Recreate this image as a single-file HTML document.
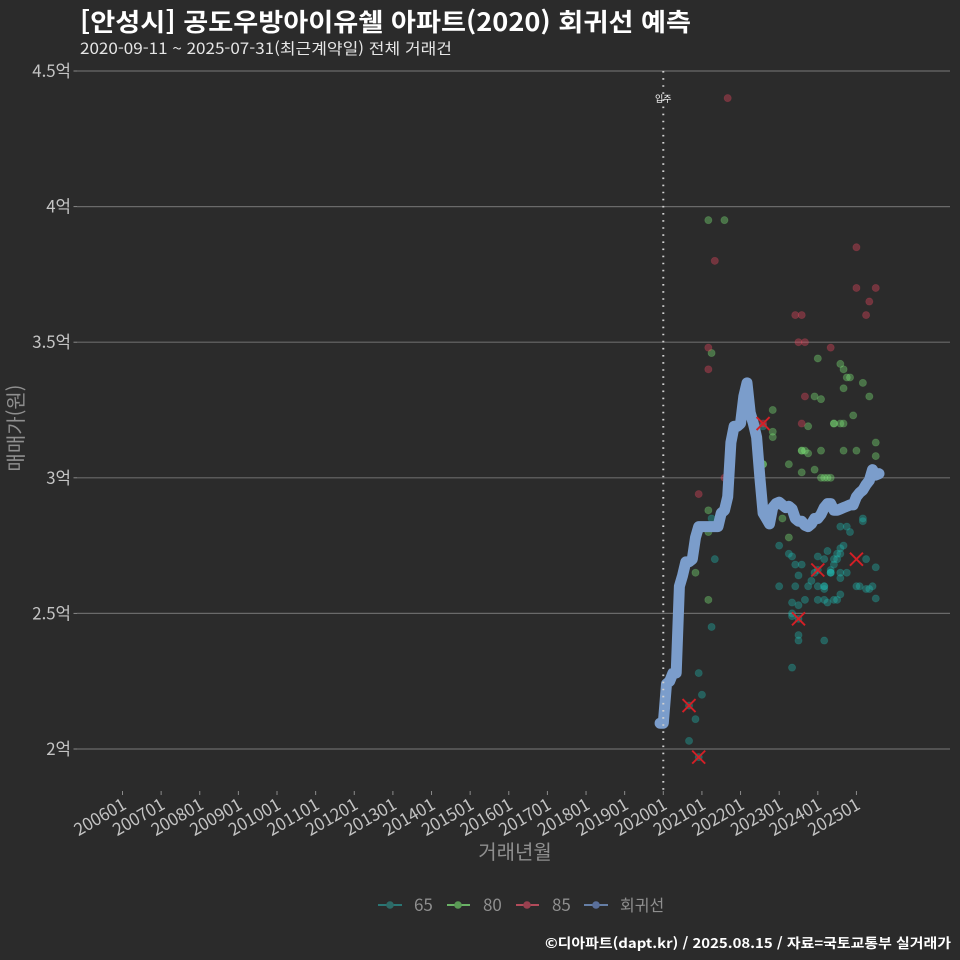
<!DOCTYPE html>
<html lang="ko">
<head>
<meta charset="utf-8">
<title>공도우방아이유쉘 아파트 회귀선 예측</title>
<style>
html,body{margin:0;padding:0;background:#2b2b2b;}
svg{display:block;font-family:"Noto Sans CJK KR","Liberation Sans",sans-serif;}
</style>
</head>
<body>
<svg id="chart" width="960" height="960" viewBox="0 0 960 960" xmlns="http://www.w3.org/2000/svg">
  <rect width="960" height="960" fill="#2b2b2b"/>
  <text x="80" y="31" font-size="25" font-weight="700" fill="#ffffff" textLength="611" lengthAdjust="spacingAndGlyphs">[안성시] 공도우방아이유쉘 아파트(2020) 회귀선 예측</text>
  <text x="80" y="54" font-size="15.5" fill="#e6e6e6" textLength="372" lengthAdjust="spacingAndGlyphs">2020-09-11 ~ 2025-07-31(최근계약일) 전체 거래건</text>
  <g id="grid"></g>
  <g id="xaxis"></g>
  <g id="points"></g>
  <g id="line"></g>
  <g id="marks"></g>
  <g id="vline"></g>
  <text x="515" y="859" font-size="20" fill="#8f8f8f" text-anchor="middle">거래년월</text>
  <text transform="translate(23,428) rotate(-90)" font-size="20" fill="#8f8f8f" text-anchor="middle">매매가(원)</text>
  <g>
    <g>
      <line x1="378" x2="402" y1="905" y2="905" stroke="#2a8f8c" stroke-width="1.6"/>
      <circle cx="390" cy="905" r="3.8" fill="#2d6a66"/>
      <text x="414" y="911" font-size="17" fill="#8f8f8f">65</text>
    </g>
    <g>
      <line x1="447" x2="470" y1="905" y2="905" stroke="#7fe07a" stroke-width="1.6"/>
      <circle cx="458" cy="905" r="3.8" fill="#5a9a55"/>
      <text x="483" y="911" font-size="17" fill="#8f8f8f">80</text>
    </g>
    <g>
      <line x1="516" x2="539" y1="905" y2="905" stroke="#e0566a" stroke-width="1.6"/>
      <circle cx="527" cy="905" r="3.8" fill="#99404f"/>
      <text x="552" y="911" font-size="17" fill="#8f8f8f">85</text>
    </g>
    <g>
      <line x1="584" x2="608" y1="905" y2="905" stroke="#7b9bd0" stroke-width="1.6"/>
      <circle cx="596" cy="905" r="3.8" fill="#5a6f9a"/>
      <text x="620" y="911" font-size="16" fill="#8f8f8f">회귀선</text>
    </g>
  </g>
  <text x="951" y="948" font-size="13.5" font-weight="700" fill="#ffffff" text-anchor="end" textLength="406" lengthAdjust="spacingAndGlyphs">©디아파트(dapt.kr) / 2025.08.15 / 자료=국토교통부 실거래가</text>
</svg>
<script>
const yTicks = [2, 2.5, 3, 3.5, 4, 4.5];
const yTickLabels = ['2억', '2.5억', '3억', '3.5억', '4억', '4.5억'];
const xTicks = [200601,200701,200801,200901,201001,201101,201201,201301,201401,201501,201601,201701,201801,201901,202001,202101,202201,202301,202401,202501];
const moveInMonth = 202001;

const months65 = [202009,202009,202011,202012,202012,202101,202104,202105,202104,202208,202301,202301,202304,202305,202306,202308,202307,202306,202310,202311,202312,202401,202401,202401,202401,202403,202403,202403,202403,202403,202403,202404,202405,202405,202405,202405,202406,202406,202407,202407,202408,202408,202409,202408,202408,202410,202408,202410,202411,202503,202503,202504,202507,202501,202502,202506,202504,202505,202507,202408,202407,202406,202404,202309,202305,202307,202305,202305,202307,202307,202307,202305];
const prices65 = [2.03,2.16,2.11,2.28,1.97,2.20,2.45,2.70,2.85,3.19,2.75,2.60,2.72,2.71,2.68,2.68,2.64,2.60,2.60,2.62,2.65,2.71,2.66,2.60,2.55,2.70,2.60,2.60,2.59,2.55,2.40,2.73,2.65,2.65,2.65,2.66,2.68,2.70,2.70,2.72,2.72,2.74,2.75,2.65,2.63,2.65,2.82,2.82,2.80,2.85,2.84,2.70,2.67,2.60,2.60,2.60,2.59,2.59,2.555,2.57,2.55,2.55,2.54,2.55,2.54,2.53,2.50,2.49,2.48,2.42,2.40,2.30];

const months80 = [202011,202103,202103,202103,202103,202104,202108,202208,202211,202211,202211,202302,202304,202304,202401,202408,202409,202410,202411,202503,202409,202312,202402,202505,202412,202308,202310,202406,202406,202408,202409,202507,202507,202308,202309,202310,202402,202409,202501,202208,202308,202312,202402,202403,202404,202405];
const prices80 = [2.65,3.95,2.88,2.80,2.55,3.46,3.95,3.05,3.25,3.17,3.15,2.85,2.78,3.05,3.44,3.42,3.40,3.37,3.37,3.35,3.33,3.30,3.29,3.30,3.23,3.10,3.19,3.20,3.20,3.20,3.20,3.13,3.08,3.10,3.10,3.09,3.10,3.10,3.10,3.05,3.02,3.03,3.00,3.00,3.00,3.00];

const months85 = [202109,202501,202105,202501,202507,202505,202306,202308,202504,202307,202309,202405,202103,202103,202309,202308,202208,202108,202012];
const prices85 = [4.40,3.85,3.80,3.70,3.70,3.65,3.60,3.60,3.60,3.50,3.50,3.48,3.48,3.40,3.30,3.20,3.20,3.00,2.94];

const excludedMonths = [202009,202012,202208,202307,202401,202501];
const excludedPrices = [2.16,1.97,3.20,2.48,2.66,2.70];

const lineMonths = [201912,202001,202002,202003,202004,202005,202006,202007,202008,202009,202010,202011,202012,202101,202102,202103,202104,202105,202106,202107,202108,202109,202110,202111,202112,202201,202202,202203,202204,202205,202206,202207,202208,202209,202210,202211,202212,202301,202302,202303,202304,202305,202306,202307,202308,202309,202310,202311,202312,202401,202402,202403,202404,202405,202406,202407,202408,202409,202410,202411,202412,202501,202502,202503,202504,202505,202506,202507,202508];
const linePrices = [2.095,2.095,2.24,2.25,2.28,2.28,2.60,2.64,2.69,2.69,2.70,2.78,2.82,2.82,2.82,2.82,2.82,2.82,2.82,2.87,2.88,2.93,3.13,3.19,3.19,3.20,3.30,3.35,3.24,3.20,3.15,3.00,2.87,2.85,2.83,2.89,2.905,2.91,2.90,2.89,2.895,2.885,2.85,2.84,2.84,2.825,2.82,2.83,2.85,2.85,2.865,2.89,2.905,2.905,2.88,2.88,2.885,2.89,2.895,2.90,2.90,2.93,2.945,2.955,2.975,2.99,3.03,3.01,3.015];

const NS = 'http://www.w3.org/2000/svg';
function xScale(yyyymm) {
  const year = Math.floor(yyyymm / 100);
  const month = yyyymm % 100;
  return 122.5 + ((year - 2006) * 12 + (month - 1)) * 3.219;
}
function yScale(price) {
  return 749 - (price - 2) * 271.2;
}
function make(tag, parent, attrs) {
  const el = document.createElementNS(NS, tag);
  for (const k in attrs) el.setAttribute(k, attrs[k]);
  parent.appendChild(el);
  return el;
}

const grid = document.getElementById('grid');
yTicks.forEach(function (v, i) {
  const y = yScale(v);
  const gl = make('line', grid, {x1: 77, x2: 950, y1: y, y2: y, stroke: '#6a6a6a', 'stroke-width': 1.2});
  
  
  const tk = make('line', grid, {x1: 73.5, x2: 77, y1: y, y2: y, stroke: '#8a8a8a', 'stroke-width': 1});
  
  
  const t = make('text', grid, {x: 71, y: y + 6, 'font-size': 16.8, fill: '#c4c4c4', 'text-anchor': 'end'});
  
  
  t.textContent = yTickLabels[i];
});

const xaxis = document.getElementById('xaxis');
xTicks.forEach(function (v) {
  const x = xScale(v);
  const tk = make('line', xaxis, {x1: x, x2: x, y1: 791, y2: 795, stroke: '#8a8a8a', 'stroke-width': 1});
  
  
  const t = make('text', xaxis, {
    transform: 'translate(' + (x + 5) + ',808) rotate(-30)',
    'font-size': 17, fill: '#c4c4c4', 'text-anchor': 'end'
  });
  
  
  t.textContent = String(v);
});

const points = document.getElementById('points');
function drawSeries(months, prices, color) {
  months.forEach(function (m, i) {
    const c = make('circle', points, {cx: xScale(m), cy: yScale(prices[i]), r: 3.6, fill: color, 'fill-opacity': 0.38, stroke: color, 'stroke-opacity': 0.22, 'stroke-width': 0.8});
    
    
  });
}
drawSeries(months65, prices65, '#22b5ad');
drawSeries(months80, prices80, '#7fe87a');
drawSeries(months85, prices85, '#e8485f');

const lineGroup = document.getElementById('line');
const lineD = lineMonths.map(function (m, i) {
  return (i ? 'L' : 'M') + xScale(m).toFixed(1) + ' ' + yScale(linePrices[i]).toFixed(1);
}).join(' ');
const reg = make('path', lineGroup, {d: lineD, fill: 'none', stroke: '#7b9dcb', 'stroke-width': 11, 'stroke-linecap': 'round', 'stroke-linejoin': 'round'});



const marks = document.getElementById('marks');
excludedMonths.forEach(function (m, i) {
  const x = xScale(m), y = yScale(excludedPrices[i]), s = 6.5;
  const p = make('path', marks, {d: 'M' + (x - s) + ' ' + (y - s) + 'L' + (x + s) + ' ' + (y + s) + 'M' + (x - s) + ' ' + (y + s) + 'L' + (x + s) + ' ' + (y - s), stroke: '#d41f26', 'stroke-width': 1.9, fill: 'none'});
  
  
});

const vline = document.getElementById('vline');
const vx = xScale(moveInMonth);
const vl = make('line', vline, {x1: vx, x2: vx, y1: 71, y2: 790, stroke: '#d0d0d0', 'stroke-width': 2, 'stroke-dasharray': '1.6 5.5'});


const vt = make('text', vline, {x: vx, y: 102, 'font-size': 9, fill: '#ffffff', 'text-anchor': 'middle'});


vt.textContent = '입주';
</script>
</body>
</html>
